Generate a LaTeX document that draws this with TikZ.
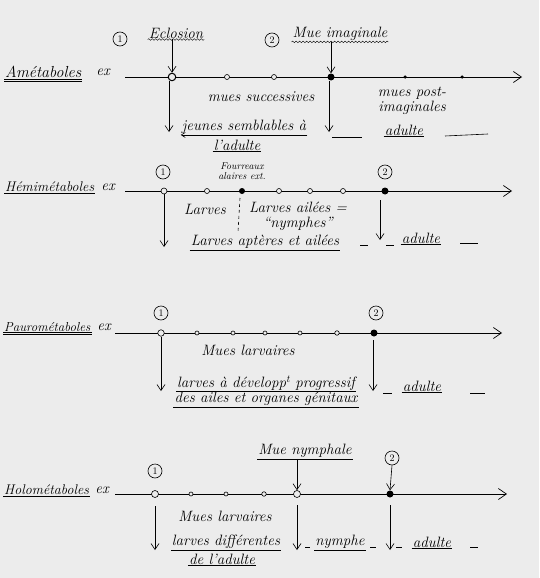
\documentclass[tikz,border=0pt]{standalone}
\usetikzlibrary{arrows.meta,decorations.pathmorphing}
\definecolor{paper}{RGB}{236,236,236}
\begin{document}
\begin{tikzpicture}[x=1pt,y=-1pt,
  txt/.style={font=\itshape\fontsize{15}{15}\selectfont, inner sep=1pt},
  small/.style={font=\itshape\fontsize{10}{10}\selectfont, inner sep=0.5pt, align=center},
  lbl/.style={font=\itshape\fontsize{14}{15}\selectfont, inner sep=1pt, anchor=west},
  ul/.style={append after command={(\tikzlastnode.south west) edge[line width=0.6pt] (\tikzlastnode.south east)}},
  dul/.style={append after command={(\tikzlastnode.south west) edge[line width=0.9pt] (\tikzlastnode.south east)
      ([yshift=-2pt]\tikzlastnode.south west) edge[line width=0.9pt] ([yshift=-2pt]\tikzlastnode.south east)}},
  wavy/.style={append after command={(\tikzlastnode.south west) edge[decorate,decoration={snake,amplitude=0.8pt,segment length=3.5pt}] (\tikzlastnode.south east)}},
  num/.style={circle, draw, line width=0.6pt, inner sep=0pt, minimum size=14pt, font=\fontsize{10}{10}\selectfont},
  opendot/.style={circle, draw, fill=paper, line width=0.6pt, inner sep=0pt, minimum size=5pt},
  bigopen/.style={circle, draw, fill=paper, line width=0.8pt, inner sep=0pt, minimum size=7.5pt},
  fulldot/.style={circle, fill=black, inner sep=0pt, minimum size=7pt},
  smalldot/.style={circle, fill=black, inner sep=0pt, minimum size=3.5pt},
  axis/.style={line width=0.7pt, -{Straight Barb[length=8pt,width=11pt]}},
  conn/.style={line width=0.6pt, -{Straight Barb[length=6pt,width=8pt]}},
  dashline/.style={line width=0.6pt}
]
\fill[paper] (0,0) rectangle (539,578);
\useasboundingbox (0,0) rectangle (539,578);

% ================= Row 1: Ametaboles =================
\coordinate (A0) at (125,77); \coordinate (A1) at (522,77);
\draw[axis] (A0) -- (A1);
\node[bigopen, line width=1pt] (a1) at (172,77) {};
\node[opendot] (a2) at (227,77) {};
\node[opendot] (a3) at (274,77) {};
\node[fulldot] (a4) at (331,77) {};
\node[smalldot] (a5) at (405,77) {};
\node[smalldot] (a6) at (462,77) {};
\node[lbl, dul, font=\itshape\fontsize{16}{16}\selectfont] (Aname) at (4,72) {Amétaboles};
\node[txt] (Aex) at (103,72) {ex};
\node[num] (An1) at (120,39) {1};
\node[txt, wavy] (Aecl) at (176,33) {Eclosion};
\node[num] (An2) at (272,40) {2};
\node[txt, wavy] (Amue) at (340,34) {Mue imaginale};
\draw[conn] (Aecl.south -| a1) -- (a1.north);
\draw[conn] (Amue.south -| a4) -- (a4.north);
\node[txt] (Amues) at (261,97) {mues successives};
\node[txt, align=center] (Apost) at (412,101) {mues post-\\imaginales};
\coordinate (Ad1) at (169,132);
\draw[conn] (a1.south -| Ad1) -- (Ad1);
\node[txt] (Ajeunes) at (244,127) {jeunes semblables à};
\draw[line width=0.6pt, -{Straight Barb[length=4pt,width=5pt]}] (Ajeunes.south east) -- (Ajeunes.south west);
\node[txt, ul] (Aadl) at (237,145) {l'adulte};
\coordinate (Ad2) at (329,132);
\draw[conn] (a4.south -| Ad2) -- (Ad2);
\coordinate (Ada) at (332,137); \coordinate (Adb) at (362,137);
\draw[dashline] (Ada) -- (Adb);
\node[txt, ul] (Aadulte) at (404,130) {adulte};
\coordinate (Adc) at (445,136); \coordinate (Add) at (488,134);
\draw[dashline] (Adc) -- (Add);

% ================= Row 2: Hemimetaboles =================
\coordinate (H0) at (125,191); \coordinate (H1) at (512,191);
\draw[axis] (H0) -- (H1);
\node[opendot, minimum size=6pt] (h1) at (164,191) {};
\node[opendot] (h2) at (207,191) {};
\node[fulldot, minimum size=6pt] (h3) at (242,191) {};
\node[opendot] (h4) at (279,191) {};
\node[opendot] (h5) at (310,191) {};
\node[opendot] (h6) at (343,191) {};
\node[fulldot] (h7) at (385,191) {};
\node[lbl, ul] (Hname) at (4,187) {Hémimétaboles};
\node[txt] (Hex) at (108,187) {ex};
\node[num] (Hn1) at (163,172) {1};
\node[num] (Hn2) at (385,172) {2};
\node[small] (Hfour) at (242,171) {Fourreaux\\alaires ext.};
\node[txt] (Hlarv) at (205,209) {Larves};
\coordinate (Hs0) at (240,198); \coordinate (Hs1) at (238,232);
\draw[dashline, dashed] (Hs0) -- (Hs1);
\node[txt, align=center] (Hail) at (298,216) {Larves ailées =\\``nymphes''};
\coordinate (Hd1) at (164,247);
\draw[conn] (h1.south) -- (Hd1);
\node[txt, ul] (Hapt) at (265,242) {Larves aptères et ailées};
\coordinate (Hda) at (360,245); \coordinate (Hdb) at (368,245);
\draw[dashline] (Hda) -- (Hdb);
\coordinate (Hu2) at (380,200); \coordinate (Hd2) at (380,240);
\draw[conn] (Hu2) -- (Hd2);
\coordinate (Hdc) at (386,245); \coordinate (Hdd) at (394,245);
\draw[dashline] (Hdc) -- (Hdd);
\node[txt, ul] (Hadulte) at (421,238) {adulte};
\coordinate (Hde) at (460,243); \coordinate (Hdf) at (478,243);
\draw[dashline] (Hde) -- (Hdf);

% ================= Row 3: Paurometaboles =================
\coordinate (P0) at (115,333); \coordinate (P1) at (502,333);
\draw[axis] (P0) -- (P1);
\node[opendot, minimum size=6.5pt] (p1) at (161,333) {};
\node[opendot, minimum size=4pt] (p2) at (197,333) {};
\node[opendot, minimum size=4pt] (p3) at (233,333) {};
\node[opendot, minimum size=4pt] (p4) at (265,333) {};
\node[opendot, minimum size=4pt] (p5) at (300,333) {};
\node[opendot, minimum size=4.5pt] (p6) at (337,333) {};
\node[fulldot] (p7) at (374,333) {};
\node[lbl, dul, font=\itshape\fontsize{13}{14}\selectfont] (Pname) at (3,327) {Paurométaboles};
\node[txt] (Pex) at (104,327) {ex};
\node[num] (Pn1) at (161,313) {1};
\node[num] (Pn2) at (376,313) {2};
\node[txt] (Pmues) at (248,350) {Mues larvaires};
\coordinate (Pd1) at (161,391);
\draw[conn] (p1.south) -- (Pd1);
\node[txt, ul] (Pl1) at (266,383) {larves à développ\textsuperscript{t} progressif};
\node[txt, ul] (Pl2) at (266,399) {des ailes et organes génitaux};
\coordinate (Pu2) at (373,340); \coordinate (Pd2) at (373,391);
\draw[conn] (Pu2) -- (Pd2);
\coordinate (Pda) at (383,393); \coordinate (Pdb) at (392,393);
\draw[dashline] (Pda) -- (Pdb);
\node[txt, ul] (Padulte) at (422,386) {adulte};
\coordinate (Pdc) at (470,393); \coordinate (Pdd) at (485,393);
\draw[dashline] (Pdc) -- (Pdd);

% ================= Row 4: Holometaboles =================
\coordinate (O0) at (115,494); \coordinate (O1) at (507,494);
\draw[axis] (O0) -- (O1);
\node[opendot, minimum size=7pt] (o1) at (155,494) {};
\node[opendot, minimum size=4pt] (o2) at (191,494) {};
\node[opendot, minimum size=4pt] (o3) at (226,494) {};
\node[opendot, minimum size=4.5pt] (o4) at (264,494) {};
\node[opendot, minimum size=7pt] (o5) at (297,494) {};
\node[fulldot] (o6) at (390,494) {};
\node[lbl, ul] (Oname) at (3,490) {Holométaboles};
\node[txt] (Oex) at (102,490) {ex};
\node[num] (On1) at (155,471) {1};
\node[num] (On2) at (392,458) {2};
\node[txt, ul] (Onym) at (305,451) {Mue nymphale};
\draw[conn] (Onym.south -| o5) -- (o5.north);
\draw[conn] (On2.south) -- (o6.north);
\node[txt] (Omues) at (225,516) {Mues larvaires};
\coordinate (Od1) at (155,550);
\draw[conn] (o1.south |- 0,506) -- (Od1);
\node[txt, ul] (Ol1) at (226,542) {larves différentes};
\node[txt, ul] (Ol2) at (222,559) {de l'adulte};
\coordinate (Ou2) at (297,505); \coordinate (Od2) at (297,550);
\draw[conn] (Ou2) -- (Od2);
\coordinate (Oda) at (305,547); \coordinate (Odb) at (310,547);
\draw[dashline] (Oda) -- (Odb);
\node[txt, ul] (Onymphe) at (340,542) {nymphe};
\coordinate (Odc) at (370,547); \coordinate (Odd) at (376,547);
\draw[dashline] (Odc) -- (Odd);
\coordinate (Ou3) at (390,505); \coordinate (Od3) at (390,550);
\draw[conn] (Ou3) -- (Od3);
\coordinate (Ode) at (396,547); \coordinate (Odf) at (402,547);
\draw[dashline] (Ode) -- (Odf);
\node[txt, ul] (Oadulte) at (432,542) {adulte};
\coordinate (Odg) at (470,547); \coordinate (Odh) at (478,547);
\draw[dashline] (Odg) -- (Odh);
\end{tikzpicture}
\end{document}
